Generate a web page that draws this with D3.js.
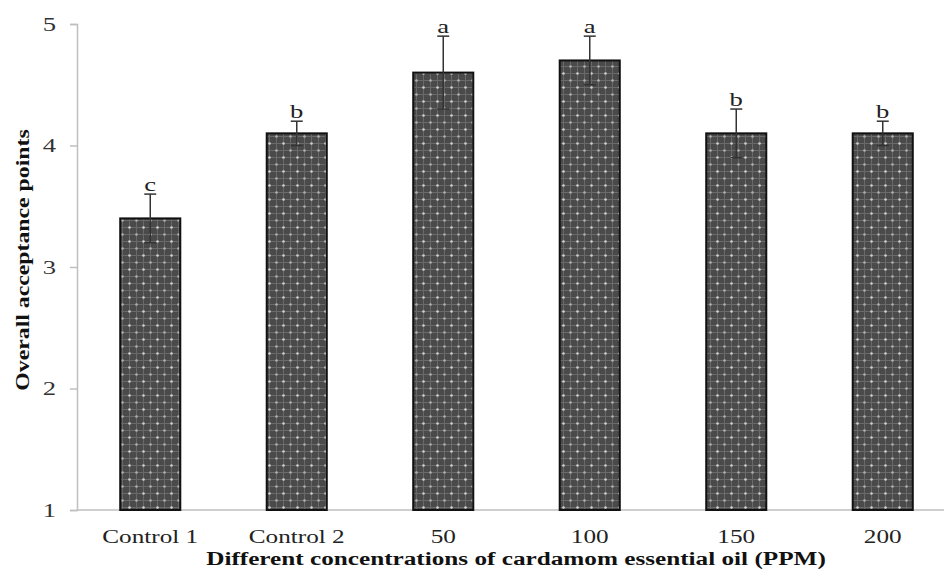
<!DOCTYPE html>
<html>
<head>
<meta charset="utf-8">
<script src="https://cdn.jsdelivr.net/npm/d3@7"></script>
<style>
  body { margin: 0; background: #fff; }
  svg { display: block; }
  text { font-family: "Liberation Serif", "DejaVu Serif", serif; }
</style>
</head>
<body>
<div id="chart"></div>
<script>
const categories = ['Control 1', 'Control 2', '50', '100', '150', '200'];
const means = [3.4, 4.1, 4.6, 4.7, 4.1, 4.1];
const errors = [0.2, 0.1, 0.3, 0.2, 0.2, 0.1];
const groups = ['c', 'b', 'a', 'a', 'b', 'b'];
const yTicks = [1, 2, 3, 4, 5];

const width = 944;
const height = 577;
const margin = { top: 24, left: 77, bottom: 67 };

// the original figure is stretched sideways along the text
const widen = (sel, k = 1.4) => sel.each(function () {
  const len = this.getComputedTextLength();
  d3.select(this)
    .attr('textLength', len * k)
    .attr('lengthAdjust', 'spacingAndGlyphs');
});

const svg = d3.select('#chart')
  .append('svg')
  .attr('width', width)
  .attr('height', height);

// dotted fill like the original bars
const defs = svg.append('defs');
const pat = defs.append('pattern')
  .attr('id', 'dots')
  .attr('patternUnits', 'userSpaceOnUse')
  .attr('width', 14)
  .attr('height', 14);
pat.append('rect').attr('width', 14).attr('height', 14).attr('fill', '#4a4a4a');
pat.append('path')
  .attr('d', 'M0 3.5H14M0 10.5H14M3.5 0V14M10.5 0V14')
  .attr('stroke', '#6a6a6a')
  .attr('stroke-width', 1);
pat.append('circle').attr('cx', 3.5).attr('cy', 3.5).attr('r', 1.3).attr('fill', '#d0d0d0');
pat.append('circle').attr('cx', 10.5).attr('cy', 10.5).attr('r', 1.3).attr('fill', '#b0b0b0');

const x = d3.scaleBand()
  .domain(categories)
  .range([margin.left, 956])
  .paddingInner(0.59)
  .paddingOuter(0.295);

const y = d3.scaleLinear()
  .domain([1, 5])
  .range([height - margin.bottom, margin.top]);

// axes
const yAxis = svg.append('g')
  .attr('transform', `translate(${margin.left},0)`)
  .call(d3.axisLeft(y).tickValues(yTicks).tickSize(7).tickPadding(14).tickFormat(d3.format('d')));
yAxis.select('.domain').attr('stroke', '#bfbfbf').attr('stroke-width', 1.5);
yAxis.selectAll('.tick line').attr('stroke', '#bfbfbf').attr('stroke-width', 1.5);
yAxis.selectAll('.tick text')
  .attr('font-size', 19)
  .attr('fill', '#333')
  .style('font-family', '"Liberation Serif", serif')
  .call(widen);

svg.append('line')
  .attr('x1', margin.left)
  .attr('x2', width)
  .attr('y1', y(1))
  .attr('y2', y(1))
  .attr('stroke', '#bfbfbf')
  .attr('stroke-width', 1.5);

const xAxis = svg.append('g')
  .attr('transform', `translate(0,${y(1)})`)
  .call(d3.axisBottom(x).tickSize(0).tickPadding(20));
xAxis.select('.domain').remove();
xAxis.selectAll('.tick text')
  .attr('font-size', 18)
  .attr('fill', '#222')
  .style('font-family', '"Liberation Serif", serif')
  .call(widen);

// bars
svg.selectAll('rect.bar')
  .data(means)
  .enter()
  .append('rect')
  .attr('class', 'bar')
  .attr('x', (d, i) => x(categories[i]))
  .attr('y', d => y(d))
  .attr('width', x.bandwidth())
  .attr('height', d => y(1) - y(d))
  .attr('fill', 'url(#dots)')
  .attr('stroke', '#111')
  .attr('stroke-width', 2);

// error bars
const err = svg.selectAll('g.err')
  .data(means)
  .enter()
  .append('g')
  .attr('class', 'err')
  .attr('transform', (d, i) => `translate(${x(categories[i]) + x.bandwidth() / 2},0)`);

err.append('line')
  .attr('y1', (d, i) => y(d - errors[i]))
  .attr('y2', (d, i) => y(d + errors[i]))
  .attr('stroke', '#333')
  .attr('stroke-width', 1.5);

err.selectAll('line.cap')
  .data((d, i) => [d - errors[i], d + errors[i]])
  .enter()
  .append('line')
  .attr('class', 'cap')
  .attr('x1', -6)
  .attr('x2', 6)
  .attr('y1', v => y(v))
  .attr('y2', v => y(v))
  .attr('stroke', '#333')
  .attr('stroke-width', 1.5);

err.append('text')
  .attr('y', (d, i) => y(d + errors[i]) - 3)
  .attr('text-anchor', 'middle')
  .attr('font-size', 19)
  .attr('fill', '#222')
  .text((d, i) => groups[i])
  .call(widen);

// titles
svg.append('text')
  .attr('x', 516)
  .attr('y', 565)
  .attr('text-anchor', 'middle')
  .attr('font-size', 18)
  .attr('font-weight', 'bold')
  .attr('fill', '#111')
  .text('Different concentrations of cardamom essential oil (PPM)')
  .call(widen);

svg.append('text')
  .attr('transform', 'translate(29,260) rotate(-90)')
  .attr('text-anchor', 'middle')
  .attr('font-size', 18)
  .attr('font-weight', 'bold')
  .attr('fill', '#111')
  .text('Overall acceptance points')
  .call(widen, 1.32);
</script>
</body>
</html>
